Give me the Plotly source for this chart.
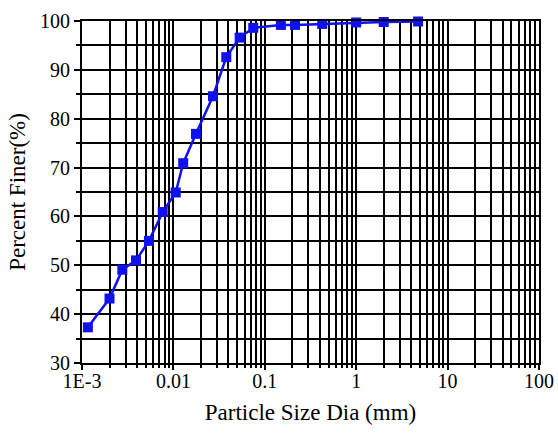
import plotly.graph_objects as go

# Grain-size distribution (hydrometer + sieve)
diameter_mm = [0.00116, 0.0020, 0.00276, 0.0039, 0.0054, 0.00764, 0.0106,
               0.0128, 0.01766, 0.0271, 0.0379, 0.0531, 0.0748, 0.150,
               0.214, 0.425, 1.0, 2.0, 4.75]
percent_finer = [37.3, 43.2, 49.1, 51.0, 55.0, 60.9, 64.9,
                 70.9, 76.9, 84.6, 92.6, 96.6, 98.6, 99.2,
                 99.2, 99.4, 99.7, 99.8, 99.9]

x_tick_vals = [0.001, 0.01, 0.1, 1, 10, 100]
x_tick_text = ["1E-3", "0.01", "0.1", "1", "10", "100"]
y_tick_vals = [30, 40, 50, 60, 70, 80, 90, 100]

font_family = "Liberation Serif"
blue = "#1010F0"

fig = go.Figure()
fig.add_trace(go.Scatter(
    x=diameter_mm, y=percent_finer,
    mode="lines+markers",
    line=dict(color=blue, width=2.5),
    marker=dict(symbol="square", size=10, color=blue),
    showlegend=False,
    cliponaxis=False,
))

fig.update_xaxes(
    type="log",
    range=[-3, 2],
    tickvals=x_tick_vals,
    ticktext=x_tick_text,
    ticks="outside", ticklen=5, tickwidth=1.5, tickcolor="black",
    ticklabelstandoff=-6,
    showgrid=True, gridcolor="black", gridwidth=1.5,
    minor=dict(dtick="D1", showgrid=True, gridcolor="black", gridwidth=1.5,
               ticks="outside", ticklen=3, tickcolor="black", tickwidth=1.5),
    showline=True, linecolor="black", linewidth=2, mirror=True,
    zeroline=False, automargin=False,
    tickfont=dict(family=font_family, size=20, color="black"),
    title=dict(text="Particle Size Dia (mm)",
               font=dict(family=font_family, size=23, color="black"),
               standoff=13),
)
fig.update_yaxes(
    range=[30, 100],
    tickvals=y_tick_vals,
    ticks="outside", ticklen=6, tickwidth=1.5, tickcolor="black",
    showgrid=True, gridcolor="black", gridwidth=1.5,
    minor=dict(dtick=5, showgrid=True, gridcolor="black", gridwidth=1.5,
               ticks="outside", ticklen=4, tickcolor="black", tickwidth=1.5),
    showline=True, linecolor="black", linewidth=2, mirror=True,
    zeroline=False, automargin=False,
    tickfont=dict(family=font_family, size=20, color="black"),
    title=dict(text="Percent Finer(%)",
               font=dict(family=font_family, size=23, color="black"),
               standoff=8),
)

fig.update_layout(
    width=558, height=433,
    margin=dict(l=82, r=19, t=21, b=70),
    paper_bgcolor="white",
    plot_bgcolor="white",
    font=dict(family=font_family, color="black"),
)

fig.write_html("out.html")
